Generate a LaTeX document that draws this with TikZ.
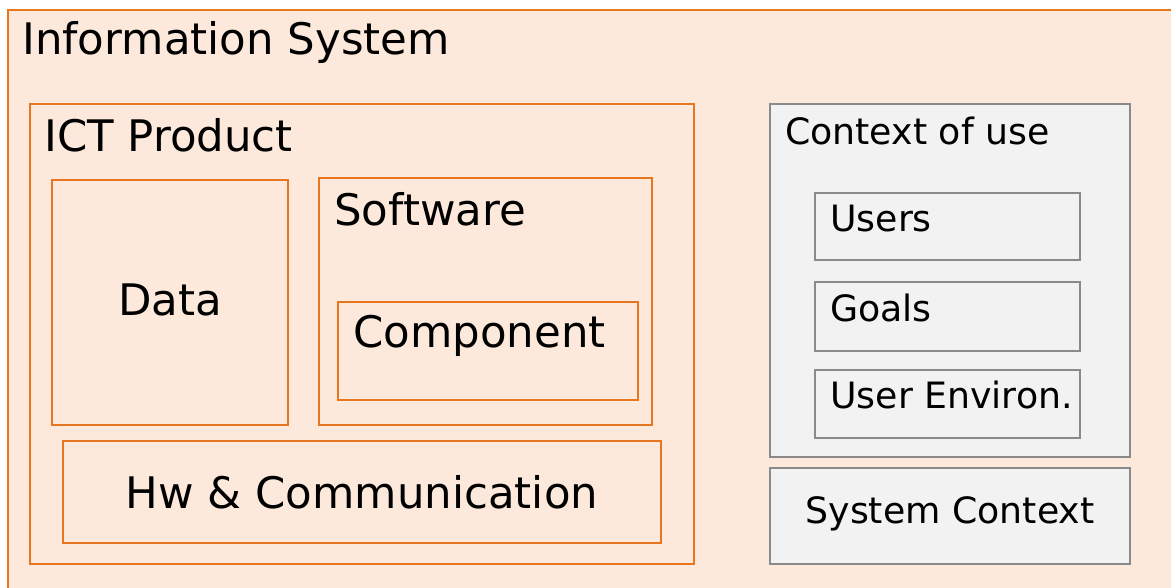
\documentclass[tikz,border=0pt]{standalone}
\usepackage{fontspec}
\setmainfont{DejaVu Sans}
\definecolor{ictorange}{HTML}{E8761F}
\definecolor{ictfill}{HTML}{FDE9DB}
\definecolor{ctxgray}{HTML}{8A8A8A}
\definecolor{ctxfill}{HTML}{F2F2F2}

\begin{document}
\begin{tikzpicture}[x=0.75pt,y=-0.75pt,
    part/.style={draw=ictorange,line width=1.8pt},
    ctx/.style={draw=ctxgray,fill=ctxfill,line width=1.8pt},
    big/.style={font=\fontsize{32.6}{36}\selectfont,inner sep=0pt},
    small/.style={font=\fontsize{27.2}{30}\selectfont,inner sep=0pt}]
	\useasboundingbox (0,0) rectangle (1171,588);
	\clip (0,0) rectangle (1171,588);
	% information system
	\draw[part,fill=ictfill] (8,10) rectangle (1200,610);
	\node[big,anchor=base west] (infosys) at (22,55) {Information System};
	% ict product and its parts
	\draw[part] (30,104) rectangle (694,564);
	\node[big,anchor=base west] (ict) at (44,152) {ICT Product};
	\draw[part] (52,180) rectangle (288,425);
	\node[big] (data) at (170,300) {Data};
	\draw[part] (319,178) rectangle (652,425);
	\node[big,anchor=base west] (sw) at (334,225) {Software};
	\draw[part] (338,302) rectangle (638,400);
	\node[big,anchor=base west] (comp) at (353,347) {Component};
	\draw[part] (63,441) rectangle (661,543);
	\node[big] (hw) at (362,492) {Hw \& Communication};
	% context of use
	\draw[ctx] (770,104) rectangle (1130,457);
	\node[small,anchor=base west] (use) at (785,145) {Context of use};
	\draw[ctx] (815,193) rectangle (1080,260);
	\node[small,anchor=base west] (users) at (830,231) {Users};
	\draw[ctx] (815,282) rectangle (1080,351);
	\node[small,anchor=base west] (goals) at (830,321) {Goals};
	\draw[ctx] (815,370) rectangle (1080,438);
	\node[small,anchor=base west] (env) at (830,408) {User Environ.};
	% system context
	\draw[ctx] (770,468) rectangle (1130,564);
	\node[small] (sysctx) at (950,514) {System Context};
\end{tikzpicture}
\end{document}
